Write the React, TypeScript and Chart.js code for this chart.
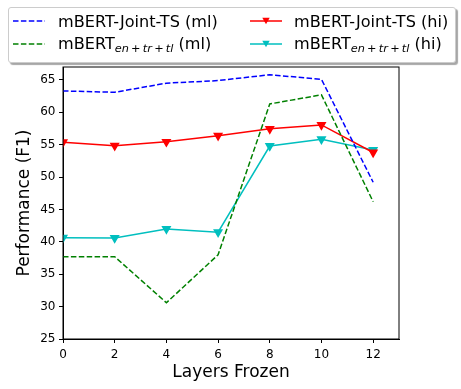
import React, { useEffect, useRef } from "react";
import { Chart, registerables } from "chart.js";
Chart.register(...registerables);

const layers = [0, 2, 4, 6, 8, 10, 12];
const jointTsMl = [63.3, 63.1, 64.5, 64.9, 65.8, 65.1, 49.2];
const baseMl = [37.7, 37.7, 30.6, 38.0, 61.3, 62.7, 46.2];
const jointTsHi = [55.4, 54.85, 55.45, 56.4, 57.45, 58.05, 53.8];
const baseHi = [40.65, 40.6, 42.0, 41.5, 54.8, 55.85, 54.2];
const xTicks = [0, 2, 4, 6, 8, 10, 12];
const yTicks = [25, 30, 35, 40, 45, 50, 55, 60, 65];

const FONT = "'DejaVu Sans', sans-serif";

const pts = (ys: number[]) => layers.map((x, i) => ({ x, y: ys[i] }));

const legendItems = [
  { base: "mBERT-Joint-TS", sub: "", suffix: " (ml)", color: "#0000ff", dashed: true, marker: false, left: 12, top: 21 },
  { base: "mBERT", sub: "en\u2009+\u2009tr\u2009+\u2009tl", suffix: " (ml)", color: "#008000", dashed: true, marker: false, left: 12, top: 44 },
  { base: "mBERT-Joint-TS", sub: "", suffix: " (hi)", color: "#ff0000", dashed: false, marker: true, left: 249, top: 21 },
  { base: "mBERT", sub: "en\u2009+\u2009tr\u2009+\u2009tl", suffix: " (hi)", color: "#00bfbf", dashed: false, marker: true, left: 249, top: 44 },
];

export default function App() {
  const ref = useRef<HTMLCanvasElement | null>(null);
  useEffect(() => {
    document.body.style.margin = "0";
    const frame = {
      id: "frame",
      afterDatasetsDraw(chart: any) {
        const { ctx, chartArea: a } = chart;
        ctx.save();
        ctx.strokeStyle = "#000";
        ctx.lineWidth = 1;
        ctx.strokeRect(a.left, a.top, a.right - a.left, a.bottom - a.top);
        ctx.restore();
      },
    };
    const chart = new Chart(ref.current!, {
      type: "line",
      data: {
        datasets: [
          { label: "mBERT-Joint-TS (ml)", data: pts(jointTsMl), borderColor: "#0000ff", backgroundColor: "#0000ff", borderDash: [5.5, 2.4], borderWidth: 1.5, pointRadius: 0, tension: 0 },
          { label: "mBERT en+tr+tl (ml)", data: pts(baseMl), borderColor: "#008000", backgroundColor: "#008000", borderDash: [5.5, 2.4], borderWidth: 1.5, pointRadius: 0, tension: 0 },
          { label: "mBERT-Joint-TS (hi)", data: pts(jointTsHi), borderColor: "#ff0000", backgroundColor: "#ff0000", borderWidth: 1.5, pointRadius: 4.3, pointStyle: "triangle", rotation: 180, tension: 0 },
          { label: "mBERT en+tr+tl (hi)", data: pts(baseHi), borderColor: "#00bfbf", backgroundColor: "#00bfbf", borderWidth: 1.5, pointRadius: 4.3, pointStyle: "triangle", rotation: 180, tension: 0 },
        ] as any,
      },
      options: {
        responsive: false,
        animation: false,
        layout: { padding: { left: 0, right: 62, top: 67, bottom: 0 } },
        plugins: { legend: { display: false }, tooltip: { enabled: false } },
        scales: {
          x: {
            type: "linear",
            min: 0,
            max: 13,
            afterBuildTicks: (s: any) => { s.ticks = xTicks.map((v) => ({ value: v })); },
            afterFit: (s: any) => { s.height = 50; },
            ticks: { color: "#000", font: { family: FONT, size: 12 }, padding: 4.5, maxRotation: 0 },
            grid: { drawOnChartArea: false, drawTicks: true, tickLength: 4, color: "#000", lineWidth: 1 },
            border: { display: true, color: "#000" },
            title: { display: true, text: "Layers Frozen", color: "#000", font: { family: FONT, size: 17 }, padding: { top: 0, bottom: 6 } },
          },
          y: {
            type: "linear",
            min: 25,
            max: 67,
            afterBuildTicks: (s: any) => { s.ticks = yTicks.map((v) => ({ value: v })); },
            afterFit: (s: any) => { s.width = 63; },
            ticks: { color: "#000", font: { family: FONT, size: 12 }, padding: 3.5 },
            grid: { drawOnChartArea: false, drawTicks: true, tickLength: 4, color: "#000", lineWidth: 1 },
            border: { display: true, color: "#000" },
            title: { display: true, text: "Performance (F1)", color: "#000", font: { family: FONT, size: 17 }, padding: { top: 14.5, bottom: 0 } },
          },
        },
      } as any,
      plugins: [frame],
    });
    return () => chart.destroy();
  }, []);

  return (
    <div style={{ position: "relative", width: 461, height: 389, fontFamily: FONT }}>
      <canvas ref={ref} width={461} height={389} style={{ position: "absolute", left: 0, top: 0 }} />
      <div
        style={{
          position: "absolute", left: 8, top: 7, width: 446, height: 54,
          border: "1px solid #cccccc", borderRadius: 3, background: "#fff",
          boxShadow: "2px 2px 1px rgba(0,0,0,0.35)",
        }}
      />
      {legendItems.map((it, i) => (
        <div key={i} style={{ position: "absolute", left: it.left, top: it.top - 10, height: 20, display: "flex", alignItems: "center", whiteSpace: "nowrap", fontSize: 16.1, color: "#000" }}>
          <svg width={34} height={20} style={{ display: "block" }}>
            <line x1={1} y1={10} x2={33} y2={10} stroke={it.color} strokeWidth={1.5} strokeDasharray={it.dashed ? "5.5 2.4" : undefined} />
            {it.marker && <polygon points="13.3,6.8 20.7,6.8 17,13.2" fill={it.color} />}
          </svg>
          <span style={{ marginLeft: i < 2 ? 12 : 11 }}>
            {it.base}
            {it.sub && <sub style={{ fontStyle: "italic", fontSize: 11.3, verticalAlign: "-3px" }}>{it.sub}</sub>}
            {it.suffix}
          </span>
        </div>
      ))}
    </div>
  );
}
